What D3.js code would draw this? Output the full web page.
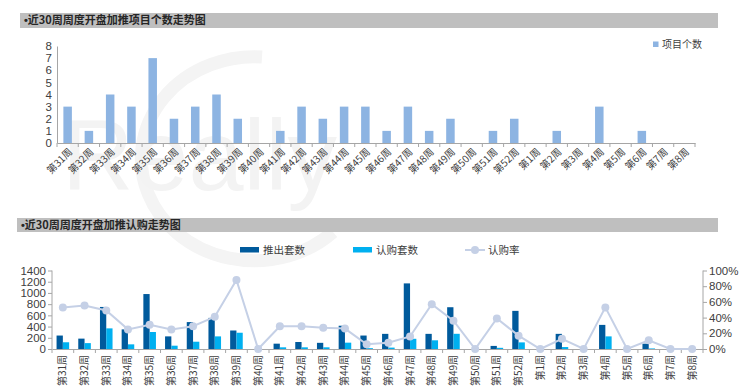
<!DOCTYPE html>
<html><head><meta charset="utf-8">
<script src="https://cdn.jsdelivr.net/npm/d3@7"></script>
<style>
body{margin:0;background:#fff;}
svg{display:block;font-family:"Noto Sans CJK SC","Noto Sans",sans-serif;}
</style></head>
<body><svg id="c" width="740" height="390"></svg>
<script>
const weeks = ["第31周","第32周","第33周","第34周","第35周","第36周","第37周","第38周","第39周","第40周","第41周","第42周","第43周","第44周","第45周","第46周","第47周","第48周","第49周","第50周","第51周","第52周","第1周","第2周","第3周","第4周","第5周","第6周","第7周","第8周"];
const projectCount = [3,1,4,3,7,2,3,4,2,0,1,3,2,3,3,1,3,1,2,0,1,2,0,1,0,3,0,1,0,0];
const launched = [240,185,750,350,980,225,480,555,330,0,95,125,110,415,240,270,1170,270,745,0,55,680,0,270,0,430,0,95,0,0];
const subscribed = [120,105,368,83,303,59,130,225,290,0,30,30,30,113,15,25,182,155,271,0,21,118,0,35,0,225,0,10,0,0];
const subRate = [0.53,0.555,0.49,0.25,0.31,0.25,0.29,0.41,0.88,0,0.29,0.29,0.27,0.26,0.06,0.08,0.16,0.57,0.36,0,0.39,0.17,0,0.13,0,0.53,0,0.11,0,0];
const topTicks = [0,1,2,3,4,5,6,7,8];
const leftTicks = [0,200,400,600,800,1000,1200,1400];
const rightTicks = [0,0.2,0.4,0.6,0.8,1.0];

const svg = d3.select("#c");
const txt = "#404040", axisC = "#a6a6a6";

// ---------- faint watermark (logo shapes) ----------
svg.append("path").attr("d","M262,57 A113,102 0 1 0 333,232").attr("fill","none").attr("stroke","#f4f4f4").attr("stroke-width",13);
svg.append("text").attr("x",62).attr("y",190).attr("font-size",100).attr("font-family","Liberation Sans, sans-serif")
  .attr("fill","#f3f3f3").attr("textLength",275).attr("lengthAdjust","spacingAndGlyphs").text("Really");

// ---------- titles ----------
function titleBar(x0,x1,y0,y1,label){
  svg.append("rect").attr("x",x0).attr("y",y0).attr("width",x1-x0).attr("height",y1-y0).attr("fill","#bfbfbf");
  const t = svg.append("text").attr("x",x0+4).attr("y",(y0+y1)/2).attr("dy","0.36em")
    .attr("font-size",11).attr("font-weight","bold").attr("fill","#262626");
  t.append("tspan").attr("font-family","Liberation Sans, sans-serif").text("•");
  t.append("tspan").text(label);
}
titleBar(20,718,13,28,"近30周周度开盘加推项目个数走势图");
titleBar(17,718,218,232,"近30周周度开盘加推认购走势图");

// ---------- top chart ----------
const x1 = d3.scaleBand().domain(weeks).range([57,695]);
const y1 = d3.scaleLinear().domain([0,8]).range([143,46]);
const g1 = svg.append("g");
g1.selectAll("rect.b").data(weeks).join("rect")
  .attr("x",(d)=>x1(d)+x1.bandwidth()*0.3).attr("width",x1.bandwidth()*0.4)
  .attr("y",(d,i)=>y1(projectCount[i])).attr("height",(d,i)=>y1(0)-y1(projectCount[i]))
  .attr("fill","#8db4e2");
const ay1 = g1.append("g").attr("transform","translate(57,0)").call(d3.axisLeft(y1).tickValues(topTicks).tickSize(0).tickPadding(5));
const ax1 = g1.append("g").attr("transform","translate(0,143)").call(d3.axisBottom(x1).tickSize(0).tickFormat(""));
[ay1,ax1].forEach(a=>{a.select(".domain").attr("stroke",axisC);a.selectAll("text").attr("fill",txt).attr("font-size",11.5).attr("font-family","Liberation Sans, sans-serif");});
g1.selectAll("line.t").data(weeks.concat(["end"])).join("line")
  .attr("x1",(d,i)=>57+i*x1.bandwidth()).attr("x2",(d,i)=>57+i*x1.bandwidth())
  .attr("y1",143).attr("y2",147).attr("stroke",axisC);
g1.selectAll("text.xl").data(weeks).join("text")
  .attr("transform",d=>`translate(${x1(d)+x1.bandwidth()/2+3},150) rotate(-45)`)
  .attr("text-anchor","end").attr("dy","0.35em").attr("font-size",10).attr("fill",txt).text(d=>d);
svg.append("rect").attr("x",653).attr("y",41.5).attr("width",5.5).attr("height",5.5).attr("fill","#8db4e2");
svg.append("text").attr("x",662).attr("y",44.5).attr("dy","0.36em").attr("font-size",10).attr("fill",txt).text("项目个数");

// ---------- bottom chart ----------
const x2 = d3.scaleBand().domain(weeks).range([52,703]);
const y2 = d3.scaleLinear().domain([0,1400]).range([349,270.5]);
const yr = d3.scaleLinear().domain([0,1]).range([349,270.5]);
const bw = x2.bandwidth()*0.29;
const g2 = svg.append("g");
g2.selectAll("rect.d").data(weeks).join("rect")
  .attr("x",d=>x2(d)+x2.bandwidth()/2-bw).attr("width",bw)
  .attr("y",(d,i)=>y2(launched[i])).attr("height",(d,i)=>y2(0)-y2(launched[i]))
  .attr("fill","#005a9c");
g2.selectAll("rect.l").data(weeks).join("rect")
  .attr("x",d=>x2(d)+x2.bandwidth()/2).attr("width",bw)
  .attr("y",(d,i)=>y2(subscribed[i])).attr("height",(d,i)=>y2(0)-y2(subscribed[i]))
  .attr("fill","#00b0f0");
const ay2 = g2.append("g").attr("transform","translate(52,0)").call(d3.axisLeft(y2).tickValues(leftTicks).tickSize(4).tickPadding(2).tickFormat(d3.format("d")));
const ar2 = g2.append("g").attr("transform","translate(703,0)").call(d3.axisRight(yr).tickValues(rightTicks).tickSize(4).tickPadding(2).tickFormat(d3.format(".0%")));
const ax2 = g2.append("g").attr("transform","translate(0,349)").call(d3.axisBottom(x2).tickSize(0).tickFormat(""));
[ay2,ar2,ax2].forEach(a=>{a.select(".domain").attr("stroke",axisC);a.selectAll("line").attr("stroke",axisC);a.selectAll("text").attr("fill",txt).attr("font-size",11.5).attr("font-family","Liberation Sans, sans-serif");});
ay2.select(".domain").attr("d","M0,270.5V349");
ar2.select(".domain").attr("d","M0,270.5V349");
g2.selectAll("line.t").data(weeks.concat(["end"])).join("line")
  .attr("x1",(d,i)=>52+i*x2.bandwidth()).attr("x2",(d,i)=>52+i*x2.bandwidth())
  .attr("y1",349).attr("y2",353).attr("stroke",axisC);
const line = d3.line().x((d,i)=>x2(weeks[i])+x2.bandwidth()/2).y(d=>yr(d));
g2.append("path").datum(subRate).attr("d",line).attr("fill","none").attr("stroke","#c5d0e6").attr("stroke-width",2);
g2.selectAll("circle").data(subRate).join("circle")
  .attr("cx",(d,i)=>x2(weeks[i])+x2.bandwidth()/2).attr("cy",d=>yr(d)).attr("r",4).attr("fill","#c5d0e6");
g2.selectAll("text.xl").data(weeks).join("text")
  .attr("transform",d=>`translate(${x2(d)+x2.bandwidth()/2},355) rotate(-90)`)
  .attr("text-anchor","end").attr("dy","0.35em").attr("font-size",10).attr("fill",txt).text(d=>d);
svg.append("rect").attr("x",240).attr("y",247).attr("width",19).attr("height",5.5).attr("fill","#005a9c");
svg.append("text").attr("x",263).attr("y",250).attr("dy","0.36em").attr("font-size",10.5).attr("fill",txt).text("推出套数");
svg.append("rect").attr("x",353).attr("y",247).attr("width",19).attr("height",5.5).attr("fill","#00b0f0");
svg.append("text").attr("x",376).attr("y",250).attr("dy","0.36em").attr("font-size",10.5).attr("fill",txt).text("认购套数");
svg.append("line").attr("x1",465).attr("x2",485).attr("y1",250).attr("y2",250).attr("stroke","#c5d0e6").attr("stroke-width",2);
svg.append("circle").attr("cx",475).attr("cy",250).attr("r",4).attr("fill","#c5d0e6");
svg.append("text").attr("x",488).attr("y",250).attr("dy","0.36em").attr("font-size",10.5).attr("fill",txt).text("认购率");
</script></body></html>
